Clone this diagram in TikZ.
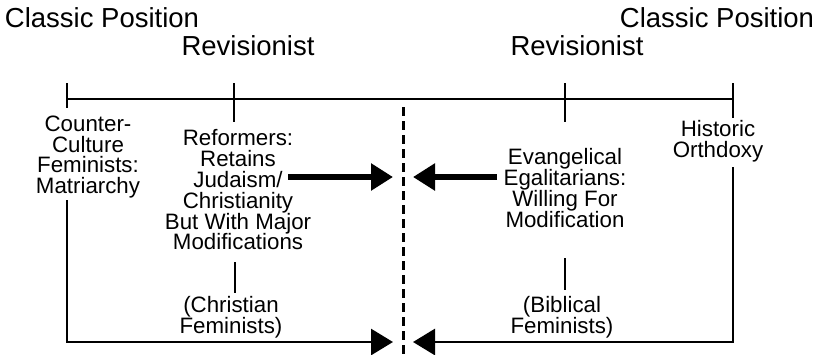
\documentclass[tikz,border=0pt]{standalone}
\usepackage{fontspec}
\setmainfont{Liberation Sans}
\usetikzlibrary{arrows.meta}
\begin{document}
\begin{tikzpicture}[x=1pt,y=-1pt,
  title/.style={font=\fontsize{27.5}{29}\selectfont, inner sep=0pt},
  lbl/.style={font=\fontsize{22.3}{20.8}\selectfont, align=center, inner sep=0pt},
  rule/.style={line width=2.6pt},
  thickarrow/.style={line width=5.5pt, -{Triangle[length=22pt,width=26pt]}},
  thinarrow/.style={line width=2.8pt, -{Triangle[length=22pt,width=26pt]}},
  divider/.style={line width=3pt, dash pattern=on 9pt off 5pt}]
\useasboundingbox (0,0) rectangle (819,354);

% titles
\node[title] (cpl) at (102,18) {Classic Position};
\node[title] (rvl) at (248,46) {Revisionist};
\node[title] (rvr) at (577,46) {Revisionist};
\node[title] (cpr) at (717,18) {Classic Position};

% scale coordinates
\coordinate (h1) at (67,99);
\coordinate (h4) at (733,99);
\coordinate (t1) at (67,83);  \coordinate (b1) at (67,108);
\coordinate (t2) at (234,83); \coordinate (b2) at (234,122);
\coordinate (t3) at (565,83); \coordinate (b3) at (565,122);
\coordinate (t4) at (733,83); \coordinate (b4) at (733,118);

\draw[rule] (h1) -- (h4);
\draw[rule] (t1) -- (b1);
\draw[rule] (t2) -- (b2);
\draw[rule] (t3) -- (b3);
\draw[rule] (t4) -- (b4);

% divider
\coordinate (d1) at (403,107);
\coordinate (d2) at (403,354);
\draw[divider] (d1) -- (d2);

% labels
\node[lbl] (cc) at (88,157) {Counter-\\Culture\\Feminists:\\Matriarchy};
\node[lbl] (ref) at (238,190) {Reformers:\\Retains\\Judaism/\\Christianity\\But With Major\\Modifications};
\node[lbl] (cf) at (231,317) {(Christian\\Feminists)};
\node[lbl] (ev) at (565,188) {Evangelical\\Egalitarians:\\Willing For\\Modification};
\node[lbl] (ho) at (718,141) {Historic\\Orthdoxy};
\node[lbl] (bf) at (562,317) {(Biblical\\Feminists)};

% middle arrows
\coordinate (la) at (288,177);
\coordinate (lt) at (393,177);
\coordinate (ra) at (497,177);
\coordinate (rt) at (413,177);
\draw[thickarrow] (la) -- (lt);
\draw[thickarrow] (ra) -- (rt);

% short connectors
\coordinate (s1a) at (235,262); \coordinate (s1b) at (235,293);
\coordinate (s2a) at (565,258); \coordinate (s2b) at (565,290);
\draw[rule] (s1a) -- (s1b);
\draw[rule] (s2a) -- (s2b);

% bottom arrows
\coordinate (lv) at (67,200);
\coordinate (lc) at (67,342);
\coordinate (lbt) at (393,342);
\coordinate (rv) at (733,167);
\coordinate (rc) at (733,342);
\coordinate (rbt) at (413,342);
\draw[thinarrow] (lv) -- (lc) -- (lbt);
\draw[thinarrow] (rv) -- (rc) -- (rbt);
\end{tikzpicture}
\end{document}
